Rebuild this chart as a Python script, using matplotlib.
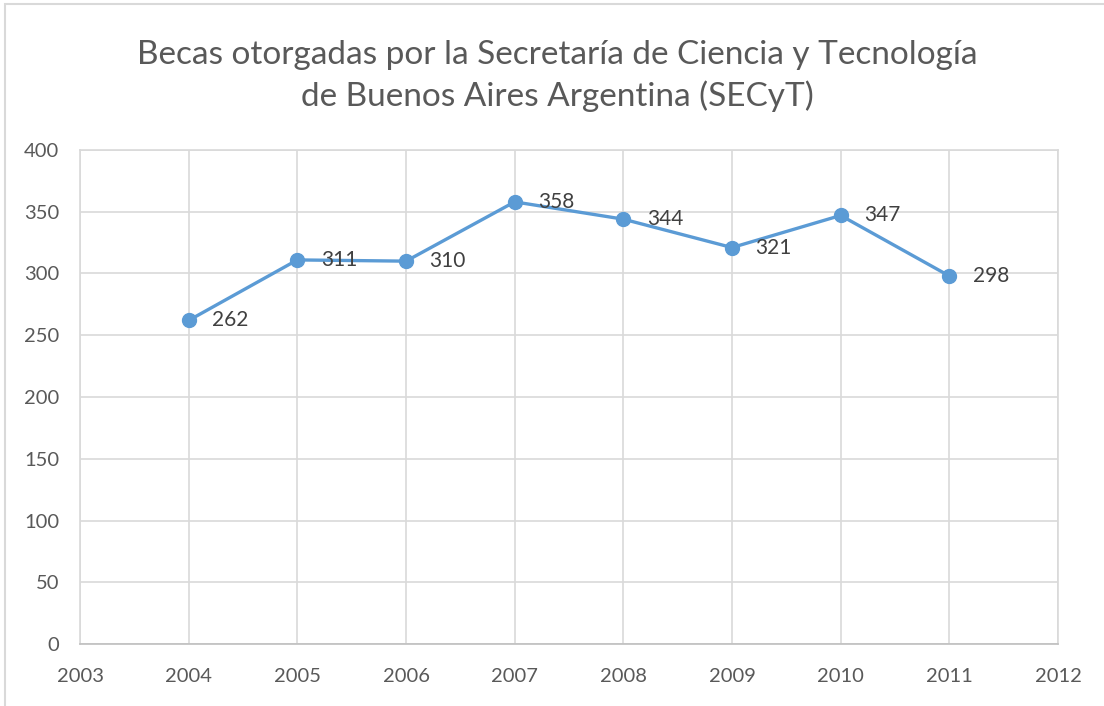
import matplotlib.pyplot as plt
from matplotlib.patches import Rectangle

# Data
years = [2004, 2005, 2006, 2007, 2008, 2009, 2010, 2011]
becas = [262, 311, 310, 358, 344, 321, 347, 298]
x_ticks = [2003, 2004, 2005, 2006, 2007, 2008, 2009, 2010, 2011, 2012]
y_ticks = [0, 50, 100, 150, 200, 250, 300, 350, 400]
title = "Becas otorgadas por la Secretaría de Ciencia y Tecnología\nde Buenos Aires Argentina (SECyT)"

plt.rcParams['font.family'] = ['Lato', 'DejaVu Sans']

fig = plt.figure(figsize=(11.04, 7.06), dpi=100)
fig.patches.append(Rectangle((5 / 1104, -0.01), 1.0, 1 - 4 / 706 + 0.01,
                             transform=fig.transFigure, fill=False,
                             edgecolor='#d9d9d9', linewidth=1.5))

ax = fig.add_axes([80 / 1104, 1 - 644 / 706, (1058 - 80) / 1104, (644 - 150) / 706])
ax.plot(years, becas, color='#5b9bd5', linewidth=2.4, marker='o',
        markersize=10, zorder=3)

for x, y in zip(years, becas):
    ax.annotate(str(y), (x, y), xytext=(17, 0), textcoords='offset points',
                va='center', ha='left', fontsize=15, color='#404040')

ax.set_xlim(2003, 2012)
ax.set_ylim(0, 400)
ax.set_xticks(x_ticks)
ax.set_yticks(y_ticks)
ax.grid(True, color='#d9d9d9', linewidth=1.2)
ax.set_axisbelow(True)
for s in ax.spines.values():
    s.set_color('#d9d9d9')
    s.set_linewidth(1.2)
ax.spines['bottom'].set_color('#bfbfbf')
ax.tick_params(length=0, labelsize=14.5, labelcolor='#595959')
ax.tick_params(axis='y', pad=15)
ax.tick_params(axis='x', pad=17)

fig.text(0.505, 1 - 76 / 706, title, ha='center', va='center',
         fontsize=24, color='#595959', linespacing=1.42)

fig.savefig('out.png', dpi=100)
